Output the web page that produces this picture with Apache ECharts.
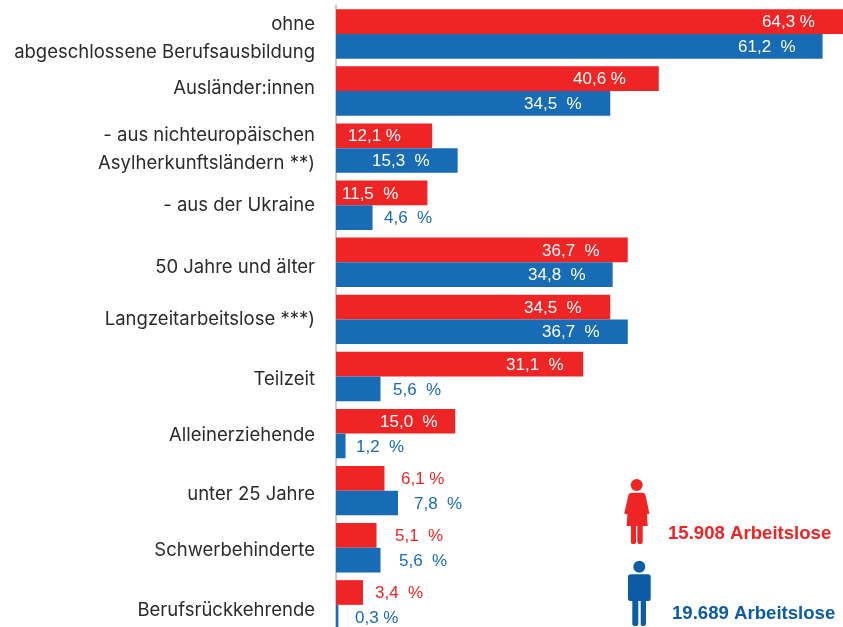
<!DOCTYPE html>
<html><head><meta charset="utf-8">
<style>html,body{margin:0;padding:0;background:#fff;width:843px;height:627px;overflow:hidden}#c{width:900px;height:640px}</style>
<script src="https://cdn.jsdelivr.net/npm/echarts@6/dist/echarts.min.js"></script>
</head><body><div id="c"></div>
<script>
const categories = ['ohne\nabgeschlossene Berufsausbildung','Ausländer:innen','- aus nichteuropäischen\nAsylherkunftsländern **)','- aus der Ukraine','50 Jahre und älter','Langzeitarbeitslose ***)','Teilzeit','Alleinerziehende','unter 25 Jahre','Schwerbehinderte','Berufsrückkehrende'];
const frauen = [64.3,40.6,12.1,11.5,36.7,34.5,31.1,15.0,6.1,5.1,3.4];
const maenner = [61.2,34.5,15.3,4.6,34.8,36.7,5.6,1.2,7.8,5.6,0.3];
const frauenLabels = ['64,3 %','40,6 %','12,1 %','11,5  %','36,7  %','34,5  %','31,1  %','15,0  %','6,1 %','5,1  %','3,4  %'];
const maennerLabels = ['61,2  %','34,5  %','15,3  %','4,6  %','34,8  %','36,7  %','5,6  %','1,2  %','7,8  %','5,6  %','0,3 %'];
const frauenLabelX = [426,237,12,6,206,188,170,44,65,59,39];
const maennerLabelX = [402,188,36,48,192,206,57,20,78,63,19];
const frauenColors = ['#fff','#fff','#fff','#fff','#fff','#fff','#fff','#fff','#ee2524','#ee2524','#ee2524'];
const maennerColors = ['#fff','#fff','#fff','#176cb5','#fff','#fff','#176cb5','#176cb5','#176cb5','#176cb5','#176cb5'];
const categoryShift = [4,-3,1.5,0.5,5.5,0.5,2.5,2,4,3,5.5];
const totalF = '15.908 Arbeitslose', totalM = '19.689 Arbeitslose';
const RED='#ee2524', BLUE='#176cb5', ICONBLUE='#0b5ca5';
const FONT='"Liberation Sans", Arial, sans-serif';

function items(vals, labels, xs, cols){
  return vals.map((v,i)=>({value:v,label:{show:true,position:[xs[i],'50%'],offset:[0,1],verticalAlign:'middle',align:'left',
    formatter:labels[i],color:cols[i],fontSize:17,fontFamily:FONT}}));
}
const rich={};
categoryShift.forEach((s,i)=>{
  rich['r'+i]={fontSize:18.5,fontFamily:'Inter, sans-serif',color:'#2b2b2b',lineHeight:28,padding:s>0?[s*2,0,0,0]:s<0?[0,0,-s*2,0]:0};
});
echarts.graphic.registerShape('womanIcon',echarts.graphic.extendPath('M632 492.7 H642 Q645 492.7 645.5 495 L649.3 513 Q649.3 514.5 647 514 L647.7 526 H642.7 V542.5 Q642.7 544 640 544 Q637.3 544 637.3 542.5 V526 H636 V542.5 Q636 544 633.5 544 Q631 544 631 542.5 V526 H626.7 L627.4 514 Q624.3 514.5 624.3 513 L628.5 495 Q629 492.7 632 492.7 Z'));
echarts.graphic.registerShape('manIcon',echarts.graphic.extendPath('M631 574.3 H648 Q650.7 574.3 650.7 577 V599 Q650.7 601 648.5 601 H646 V624 Q646 626 643.5 626 Q640.7 626 640.7 624 V601 H638.3 V624 Q638.3 626 635.3 626 Q632.3 626 632.3 624 V601 H630 Q628 601 628 599 V577 Q628 574.3 631 574.3 Z'));
const chart = echarts.init(document.getElementById('c'),null,{renderer:'canvas'});
chart.setOption({
  animation:false,
  grid:{left:336,top:5.4,width:556.5,height:628,containLabel:false},
  xAxis:{type:'value',min:0,max:70,show:false},
  yAxis:{type:'category',inverse:true,data:categories,
    axisLine:{show:true,lineStyle:{color:'#c9c9c9',width:2}},axisTick:{show:false},
    axisLabel:{margin:21,align:'right',formatter:(v,i)=>v.split('\n').map(t=>`{r${i}|${t}}`).join('\n'),rich}},
  series:[
    {type:'bar',name:'Frauen',barWidth:24.7,barGap:0,itemStyle:{color:RED},data:items(frauen,frauenLabels,frauenLabelX,frauenColors)},
    {type:'bar',name:'Männer',barWidth:24.7,barGap:0,itemStyle:{color:BLUE},data:items(maenner,maennerLabels,maennerLabelX,maennerColors)}
  ],
  graphic:[
    {type:'circle',shape:{cx:636.7,cy:485,r:6},style:{fill:RED}},
    {type:'womanIcon',style:{fill:RED}},
    {type:'circle',shape:{cx:639.3,cy:566.7,r:6},style:{fill:ICONBLUE}},
    {type:'manIcon',style:{fill:ICONBLUE}},
    {type:'text',x:668,y:534,style:{text:totalF,fill:RED,font:'bold 18.6px '+FONT,textVerticalAlign:'middle'}},
    {type:'text',x:672,y:614,style:{text:totalM,fill:ICONBLUE,font:'bold 18.6px '+FONT,textVerticalAlign:'middle'}}
  ]
});
</script></body></html>
